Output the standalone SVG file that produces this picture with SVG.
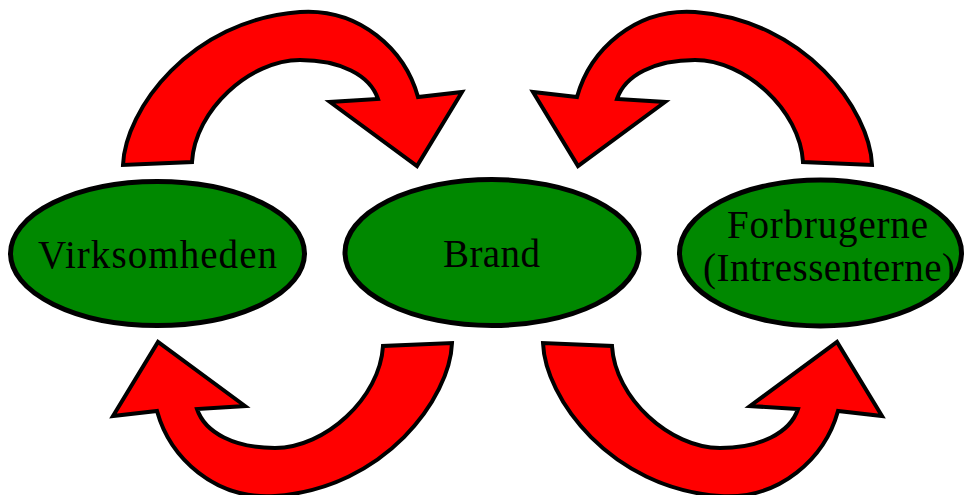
<svg xmlns="http://www.w3.org/2000/svg" xmlns:xlink="http://www.w3.org/1999/xlink" width="966" height="495" viewBox="0 0 966 495">
  <style>
    .node { fill: #008800; stroke: #000000; stroke-width: 5; }
    .label { font-family: "Liberation Serif", "Times New Roman", serif; font-size: 39px; fill: #000000; }
    .arrow { fill: #ff0000; stroke: #000000; stroke-width: 4; stroke-linejoin: miter; }
  </style>
  <defs>
    <!-- curved block arrow: tail at lower left, head pointing down to the right -->
    <path id="curved-arrow" d="M123,165 C125,110 190,20 300,12 C360,8 405,50 418,97 L462,92 L417,166 L330,102 L378,99 C370,75 340,60 300,60 C250,60 195,110 192,162 Z"/>
  </defs>

  <g id="virksomheden">
    <ellipse class="node" cx="157.5" cy="253.5" rx="147" ry="72"/>
    <text class="label" x="38" y="268" textLength="239">Virksomheden</text>
  </g>

  <g id="brand">
    <ellipse class="node" cx="492" cy="252.5" rx="147" ry="73"/>
    <text class="label" x="443" y="267" textLength="97">Brand</text>
  </g>

  <g id="forbrugerne">
    <ellipse class="node" cx="820.5" cy="253" rx="141" ry="73"/>
    <text class="label" x="727" y="238" textLength="201">Forbrugerne</text>
    <text class="label" x="703" y="281" textLength="252">(Intressenterne)</text>
  </g>

  <g id="connectors">
    <use class="arrow" xlink:href="#curved-arrow"/>
    <use class="arrow" xlink:href="#curved-arrow" transform="matrix(-1 0 0 1 995 0)"/>
    <use class="arrow" xlink:href="#curved-arrow" transform="matrix(-1 0 0 -1 575 508)"/>
    <use class="arrow" xlink:href="#curved-arrow" transform="matrix(1 0 0 -1 420 508)"/>
  </g>
</svg>
